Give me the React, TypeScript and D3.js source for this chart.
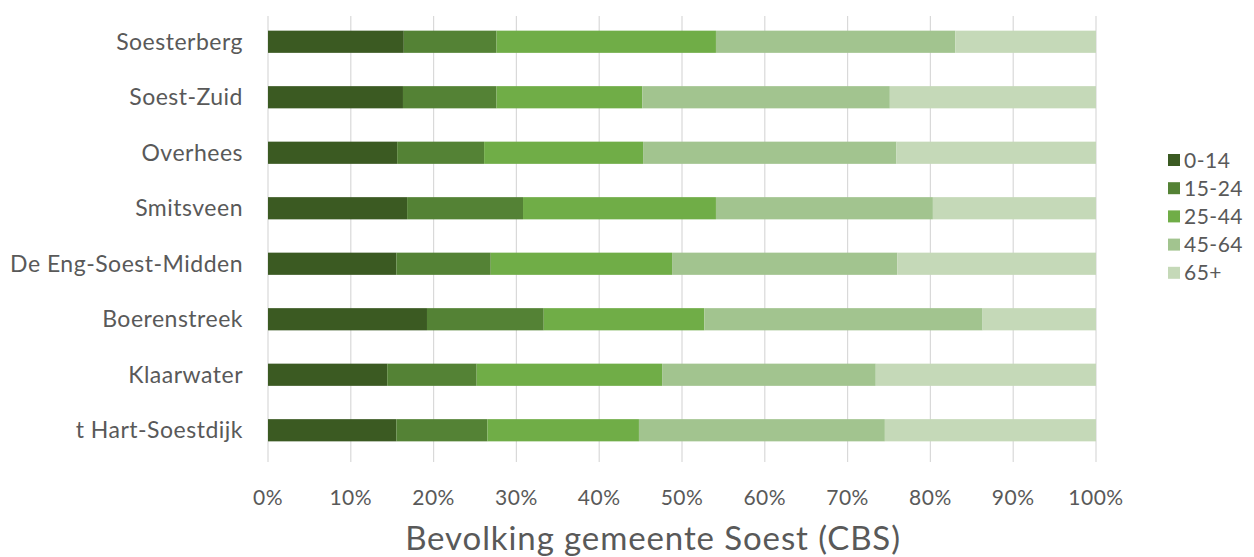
import React, { useEffect, useRef } from 'react';
import * as d3 from 'd3';

const neighbourhoods = [
  'Soesterberg',
  'Soest-Zuid',
  'Overhees',
  'Smitsveen',
  'De Eng-Soest-Midden',
  'Boerenstreek',
  'Klaarwater',
  't Hart-Soestdijk',
];

const ageGroups = ['0-14', '15-24', '25-44', '45-64', '65+'];

// share (%) per age group, in neighbourhood order
const age0to14 = [16.4, 16.3, 15.6, 16.8, 15.5, 19.2, 14.4, 15.5];
const age15to24 = [11.2, 11.3, 10.5, 14.0, 11.4, 14.1, 10.8, 11.0];
const age25to44 = [26.5, 17.6, 19.2, 23.3, 21.9, 19.4, 22.4, 18.3];
const age45to64 = [28.9, 29.9, 30.6, 26.2, 27.2, 33.6, 25.8, 29.7];
const age65plus = [17.0, 24.9, 24.1, 19.7, 24.0, 13.7, 26.6, 25.5];

const xTicks = [0, 10, 20, 30, 40, 50, 60, 70, 80, 90, 100];

const colors = ['#3B5A22', '#548235', '#70AD47', '#A2C48F', '#C5D9B8'];

const App: React.FC = () => {
  const svgRef = useRef<SVGSVGElement>(null);

  useEffect(() => {
    const svg = d3.select(svgRef.current);
    svg.selectAll('*').remove();

    const font = 'Lato, "Open Sans", sans-serif';
    const textColor = '#595959';

    const series = [age0to14, age15to24, age25to44, age45to64, age65plus];
    const rows = neighbourhoods.map((name, i) => {
      const r: any = { name };
      ageGroups.forEach((g, j) => (r[g] = series[j][i]));
      return r;
    });

    const stacked = d3.stack<any>().keys(ageGroups)(rows);

    const x = d3.scaleLinear().domain([0, 100]).range([268, 1096]);
    const y = d3
      .scaleBand<string>()
      .domain(neighbourhoods)
      .range([14, 458])
      .paddingInner(0.6)
      .paddingOuter(0.3);

    // gridlines
    svg
      .append('g')
      .selectAll('line')
      .data(xTicks)
      .enter()
      .append('line')
      .attr('x1', d => x(d))
      .attr('x2', d => x(d))
      .attr('y1', 16)
      .attr('y2', 462)
      .attr('stroke', '#D9D9D9')
      .attr('stroke-width', 1.2);

    // bars
    svg
      .append('g')
      .selectAll('g')
      .data(stacked)
      .enter()
      .append('g')
      .attr('fill', (_, i) => colors[i])
      .selectAll('rect')
      .data(d => d)
      .enter()
      .append('rect')
      .attr('x', d => x(d[0]))
      .attr('width', d => x(d[1]) - x(d[0]))
      .attr('y', d => y(d.data.name)!)
      .attr('height', y.bandwidth());

    // category labels
    svg
      .append('g')
      .selectAll('text')
      .data(neighbourhoods)
      .enter()
      .append('text')
      .attr('x', 243)
      .attr('y', d => y(d)! + y.bandwidth() / 2)
      .attr('dy', '0.35em')
      .attr('text-anchor', 'end')
      .style('font-family', font)
      .style('font-size', '23px')
      .style('letter-spacing', '0.5px')
      .style('fill', textColor)
      .text(d => d);

    // x tick labels
    svg
      .append('g')
      .selectAll('text')
      .data(xTicks)
      .enter()
      .append('text')
      .attr('x', d => x(d))
      .attr('y', 505)
      .attr('text-anchor', 'middle')
      .style('font-family', font)
      .style('font-size', '21px')
      .style('letter-spacing', '0.5px')
      .style('fill', textColor)
      .text(d => `${d}%`);

    // axis title
    svg
      .append('text')
      .attr('x', 653)
      .attr('y', 550)
      .attr('text-anchor', 'middle')
      .style('font-family', font)
      .style('font-size', '33px')
      .style('letter-spacing', '0.9px')
      .style('fill', textColor)
      .text('Bevolking gemeente Soest (CBS)');

    // legend
    const legend = svg
      .append('g')
      .selectAll('g')
      .data(ageGroups)
      .enter()
      .append('g')
      .attr('transform', (_, i) => `translate(1168,${160 + i * 28.2})`);

    legend
      .append('rect')
      .attr('x', 0)
      .attr('y', -6)
      .attr('width', 12)
      .attr('height', 12)
      .attr('fill', (_, i) => colors[i]);

    legend
      .append('text')
      .attr('x', 16)
      .attr('y', 0)
      .attr('dy', '0.36em')
      .style('font-family', font)
      .style('font-size', '21px')
      .style('letter-spacing', '0.5px')
      .style('fill', textColor)
      .text(d => d);
  }, []);

  return (
    <svg
      ref={svgRef}
      width={1254}
      height={557}
      style={{ position: 'absolute', left: 0, top: 0, background: '#fff' }}
    />
  );
};

export default App;
